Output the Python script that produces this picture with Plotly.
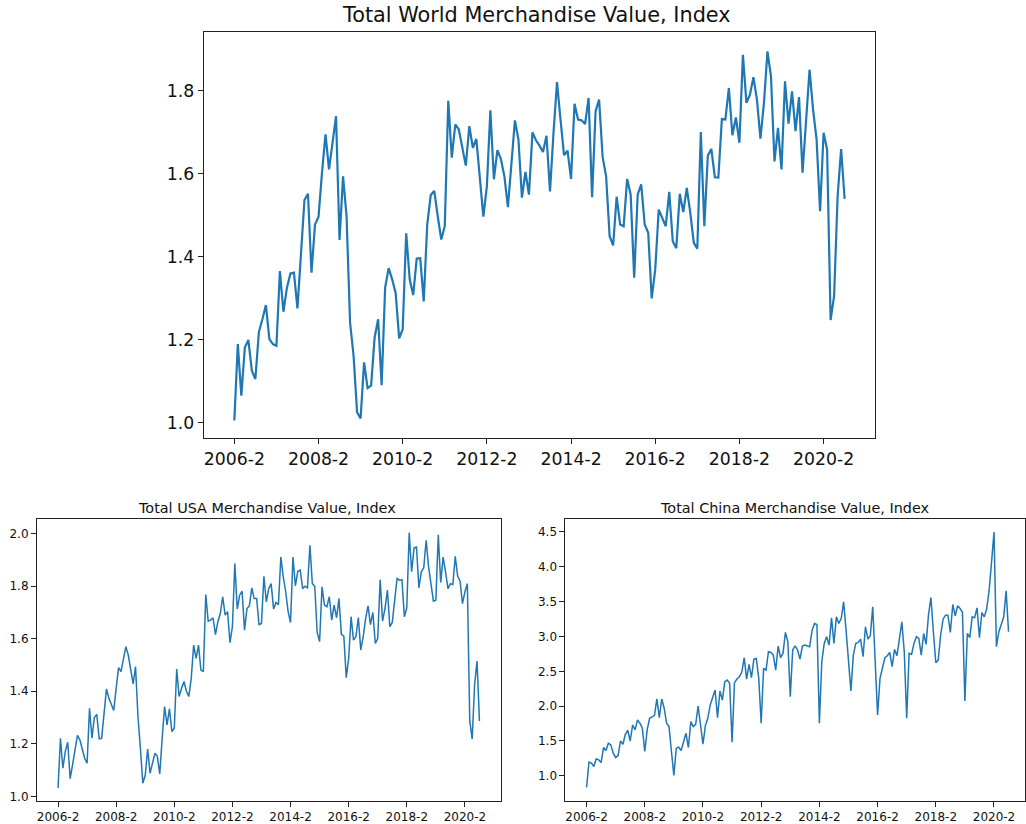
import plotly.graph_objects as go

tick_labels = ["2006-2", "2008-2", "2010-2", "2012-2", "2014-2", "2016-2", "2018-2", "2020-2"]
tick_positions = [0, 24, 48, 72, 96, 120, 144, 168]

world = [1.006, 1.19, 1.066, 1.182, 1.20, 1.126, 1.106, 1.219, 1.25, 1.284, 1.202, 1.19,
         1.186, 1.366, 1.268, 1.326, 1.36, 1.362, 1.276, 1.402, 1.537, 1.552, 1.362, 1.478,
         1.496, 1.603, 1.695, 1.611, 1.671, 1.739, 1.441, 1.594, 1.498, 1.242, 1.162, 1.026,
         1.011, 1.146, 1.084, 1.09, 1.206, 1.25, 1.091, 1.326, 1.373, 1.346, 1.3125, 1.204,
         1.226, 1.457, 1.346, 1.308, 1.396, 1.397, 1.293, 1.478, 1.549, 1.559, 1.498, 1.442,
         1.474, 1.776, 1.639, 1.719, 1.707, 1.663, 1.62, 1.715, 1.663, 1.684, 1.587, 1.497,
         1.57, 1.753, 1.587, 1.657, 1.636, 1.594, 1.52, 1.627, 1.729, 1.683, 1.543, 1.605,
         1.55, 1.70, 1.681, 1.668, 1.653, 1.692, 1.558, 1.699, 1.821, 1.731, 1.645, 1.656,
         1.588, 1.769, 1.731, 1.729, 1.72, 1.783, 1.544, 1.751, 1.779, 1.641, 1.594, 1.45,
         1.428, 1.545, 1.478, 1.474, 1.588, 1.55, 1.35, 1.55, 1.575, 1.478, 1.458, 1.30,
         1.37, 1.514, 1.494, 1.474, 1.557, 1.438, 1.421, 1.552, 1.508, 1.566, 1.506, 1.434,
         1.42, 1.701, 1.474, 1.644, 1.66, 1.592, 1.591, 1.732, 1.731, 1.807, 1.693, 1.736,
         1.675, 1.887, 1.771, 1.791, 1.833, 1.779, 1.685, 1.771, 1.895, 1.835, 1.63, 1.711,
         1.611, 1.823, 1.721, 1.799, 1.703, 1.785, 1.603, 1.739, 1.851, 1.755, 1.683, 1.51,
         1.699, 1.659, 1.248, 1.306, 1.546, 1.66, 1.54]

usa = [1.032, 1.221, 1.107, 1.171, 1.206, 1.067, 1.12, 1.171, 1.232, 1.215, 1.183, 1.145,
       1.126, 1.335, 1.221, 1.30, 1.312, 1.219, 1.221, 1.31, 1.409, 1.373, 1.346, 1.327,
       1.411, 1.49, 1.475, 1.519, 1.57, 1.538, 1.481, 1.428, 1.494, 1.304, 1.183, 1.05,
       1.08, 1.18, 1.088, 1.126, 1.164, 1.152, 1.085, 1.221, 1.342, 1.272, 1.333, 1.247,
       1.259, 1.485, 1.38, 1.411, 1.437, 1.401, 1.38, 1.449, 1.576, 1.525, 1.576, 1.481,
       1.475, 1.768, 1.667, 1.671, 1.68, 1.616, 1.665, 1.696, 1.76, 1.69, 1.703, 1.585,
       1.646, 1.886, 1.713, 1.766, 1.781, 1.633, 1.715, 1.725, 1.794, 1.753, 1.753, 1.654,
       1.658, 1.838, 1.74, 1.791, 1.81, 1.713, 1.738, 1.73, 1.911, 1.836, 1.779, 1.703,
       1.662, 1.911, 1.801, 1.857, 1.861, 1.791, 1.80, 1.794, 1.956, 1.81, 1.80, 1.624,
       1.589, 1.798, 1.728, 1.722, 1.76, 1.671, 1.728, 1.68, 1.753, 1.616, 1.611, 1.452,
       1.525, 1.684, 1.595, 1.608, 1.681, 1.557, 1.608, 1.677, 1.725, 1.654, 1.70, 1.582,
       1.601, 1.825, 1.667, 1.715, 1.785, 1.646, 1.662, 1.747, 1.829, 1.823, 1.825, 1.684,
       1.718, 2.004, 1.855, 1.946, 1.949, 1.794, 1.855, 1.87, 1.975, 1.874, 1.798, 1.743,
       1.747, 1.996, 1.814, 1.911, 1.855, 1.791, 1.81, 1.806, 1.914, 1.839, 1.819, 1.734,
       1.779, 1.81, 1.287, 1.218, 1.424, 1.515, 1.287]

china = [0.834, 1.196, 1.182, 1.134, 1.244, 1.229, 1.191, 1.406, 1.363, 1.468, 1.444, 1.325,
         1.263, 1.291, 1.50, 1.454, 1.597, 1.654, 1.50, 1.73, 1.659, 1.802, 1.755, 1.683,
         1.349, 1.659, 1.826, 1.85, 1.865, 2.103, 1.836, 2.103, 1.97, 1.755, 1.707, 1.349,
         1.005, 1.397, 1.411, 1.363, 1.492, 1.611, 1.406, 1.779, 1.707, 1.74, 2.002, 1.683,
         1.454, 1.721, 1.826, 2.017, 2.113, 2.232, 1.836, 2.217, 2.088, 2.352, 2.375, 2.328,
         1.483, 2.337, 2.389, 2.423, 2.485, 2.695, 2.389, 2.60, 2.409, 2.676, 2.686, 2.399,
         1.755, 2.542, 2.518, 2.781, 2.771, 2.733, 2.518, 2.862, 2.695, 2.757, 3.058, 2.924,
         2.137, 2.805, 2.867, 2.805, 2.676, 2.862, 2.876, 2.862, 2.853, 3.091, 3.187, 3.172,
         1.755, 2.638, 2.90, 2.996, 2.876, 3.268, 2.90, 3.282, 3.187, 3.258, 3.497, 3.091,
         2.638, 2.217, 2.733, 2.90, 2.915, 2.962, 2.71, 3.139, 2.962, 3.01, 3.426, 2.638,
         1.874, 2.399, 2.566, 2.695, 2.724, 2.771, 2.566, 2.814, 2.724, 2.996, 3.211, 2.781,
         1.826, 2.757, 2.743, 2.90, 2.996, 2.972, 2.733, 3.043, 2.886, 3.316, 3.559, 3.068,
         2.624, 2.661, 3.02, 3.248, 3.306, 3.306, 3.058, 3.459, 3.297, 3.44, 3.402, 3.344,
         2.074, 3.043, 2.982, 3.282, 3.268, 3.411, 2.982, 3.344, 3.282, 3.402, 3.664, 4.07,
         4.50, 2.853, 3.068, 3.172, 3.282, 3.655, 3.068]

W, H = 1026, 824
FONT = "DejaVu Sans"
LINE = "#1f77b4"

def px_x(a, b):
    return [a / W, b / W]

def px_y(top, bottom):
    return [1 - bottom / H, 1 - top / H]

fig = go.Figure()
fig.add_trace(go.Scatter(x=list(range(len(world))), y=world, mode="lines",
                         line=dict(color=LINE, width=2.2),
                         xaxis="x", yaxis="y", showlegend=False))
fig.add_trace(go.Scatter(x=list(range(len(usa))), y=usa, mode="lines",
                         line=dict(color=LINE, width=1.5),
                         xaxis="x2", yaxis="y2", showlegend=False))
fig.add_trace(go.Scatter(x=list(range(len(china))), y=china, mode="lines",
                         line=dict(color=LINE, width=1.5),
                         xaxis="x3", yaxis="y3", showlegend=False))

def axis_common(size):
    return dict(showline=True, mirror=True, linecolor="#222", linewidth=1,
                ticks="outside", ticklen=5, tickwidth=1, tickcolor="#222",
                showgrid=False, zeroline=False,
                tickfont=dict(family=FONT, size=size, color="#111"))

fig.update_layout(
    width=W, height=H,
    margin=dict(l=0, r=0, t=0, b=0),
    paper_bgcolor="white", plot_bgcolor="white",
    xaxis=dict(domain=px_x(204, 876), range=[-8.7, 182.7], anchor="y",
               tickvals=tick_positions, ticktext=tick_labels, **axis_common(17.3)),
    yaxis=dict(domain=px_y(32, 439), range=[0.964, 1.942], anchor="x",
               tickvals=[1.0, 1.2, 1.4, 1.6, 1.8], tickformat=".1f", **axis_common(17.3)),
    xaxis2=dict(domain=px_x(37, 501), range=[-8.7, 182.7], anchor="y2",
                tickvals=tick_positions, ticktext=tick_labels, **axis_common(12)),
    yaxis2=dict(domain=px_y(520, 803), range=[0.982, 2.057], anchor="x2",
                tickvals=[1.0, 1.2, 1.4, 1.6, 1.8, 2.0], tickformat=".1f", **axis_common(12)),
    xaxis3=dict(domain=px_x(566, 1026), range=[-8.7, (1026 - 586.7) / 2.43], anchor="y3",
                tickvals=tick_positions, ticktext=tick_labels, **axis_common(12)),
    yaxis3=dict(domain=px_y(520, 803), range=[0.638, 4.69], anchor="x3",
                tickvals=[1.0, 1.5, 2.0, 2.5, 3.0, 3.5, 4.0, 4.5], tickformat=".1f", **axis_common(12)),
)

fig.add_annotation(text="Total World Merchandise Value, Index", xref="paper", yref="paper",
                   x=537 / W, y=1 - 15 / H, showarrow=False, xanchor="center", yanchor="middle",
                   font=dict(family=FONT, size=20.8, color="#111"))
fig.add_annotation(text="Total USA Merchandise Value, Index", xref="paper", yref="paper",
                   x=267 / W, y=1 - 509 / H, showarrow=False, xanchor="center", yanchor="middle",
                   font=dict(family=FONT, size=14.4, color="#111"))
fig.add_annotation(text="Total China Merchandise Value, Index", xref="paper", yref="paper",
                   x=796 / W, y=1 - 509 / H, showarrow=False, xanchor="center", yanchor="middle",
                   font=dict(family=FONT, size=14.4, color="#111"))

fig.write_html("out.html",
               config={"displayModeBar": False},
               post_script="document.body.style.margin='0';document.body.style.padding='0';"
                           "document.documentElement.style.overflow='hidden';")
